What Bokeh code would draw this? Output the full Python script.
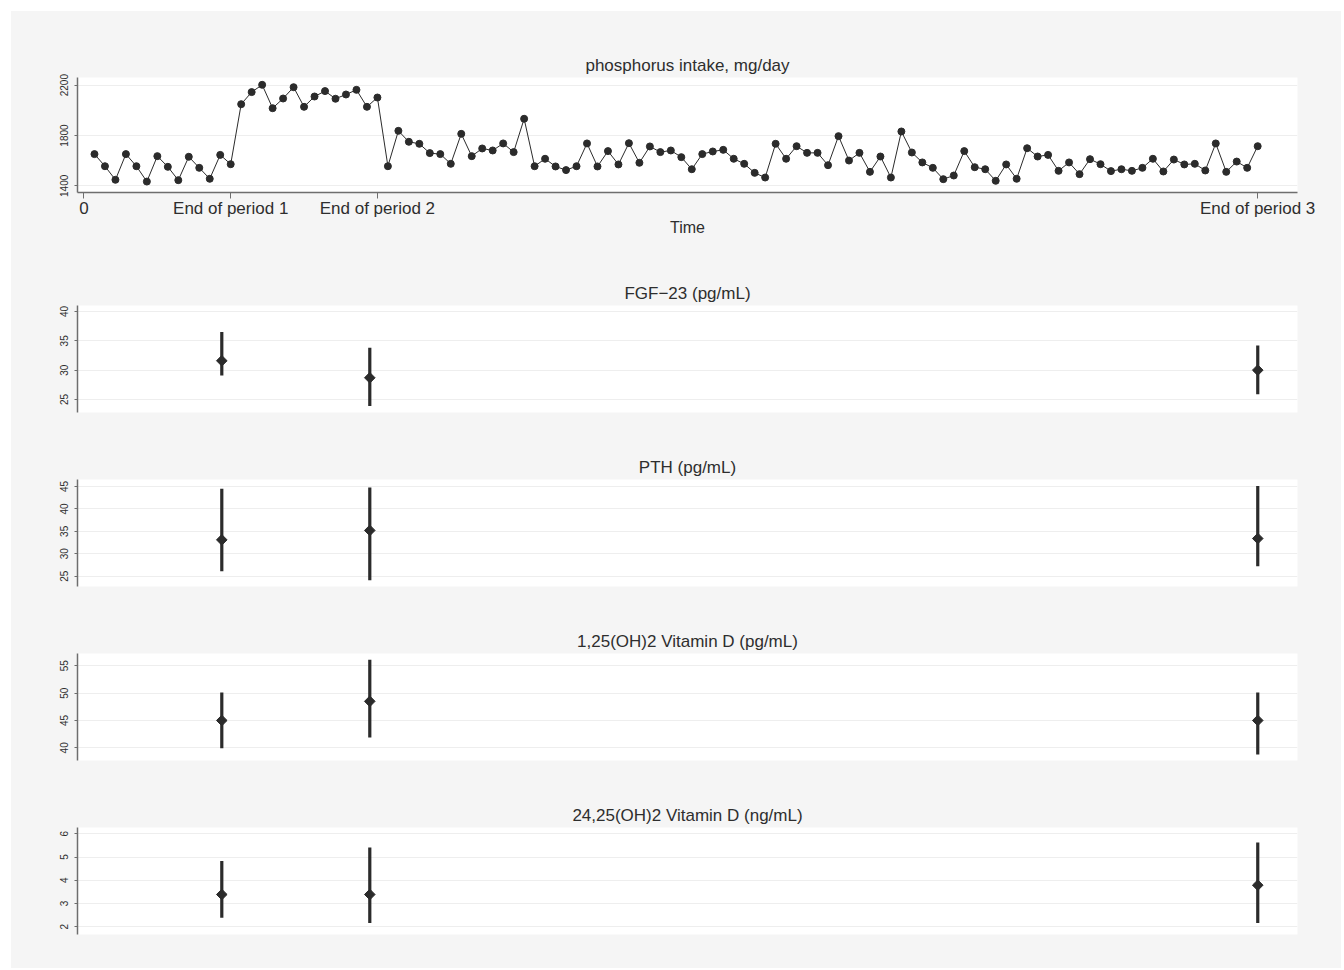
from bokeh.plotting import figure
from bokeh.layouts import column
from bokeh.models import Range1d, FixedTicker
from bokeh.embed import file_html
from bokeh.resources import INLINE

# ---------------- data ----------------
days = list(range(1, 113))
phosphorus = [
    1652, 1556, 1448, 1652, 1556, 1434, 1636, 1551, 1445, 1631,
    1543, 1456, 1646, 1572, 2049, 2145, 2203, 2017, 2094, 2184,
    2028, 2110, 2153, 2092, 2126, 2163, 2028, 2102, 1556, 1837,
    1750, 1734, 1660, 1652, 1575, 1813, 1636, 1697, 1681, 1737,
    1668, 1933, 1556, 1615, 1554, 1525, 1556, 1737, 1554, 1676,
    1570, 1739, 1583, 1713, 1668, 1681, 1628, 1532, 1652, 1673,
    1686, 1615, 1575, 1503, 1466, 1734, 1615, 1715, 1662, 1662,
    1564, 1795, 1601, 1662, 1511, 1633, 1466, 1832, 1665, 1586,
    1543, 1453, 1482, 1676, 1548, 1532, 1440, 1570, 1456, 1699,
    1633, 1646, 1519, 1586, 1493, 1612, 1572, 1517, 1532, 1519,
    1543, 1615, 1514, 1609, 1570, 1575, 1522, 1737, 1511, 1593,
    1543, 1715,
]
period_ticks = [0, 14, 28, 112]
period_labels = ["0", "End of period 1", "End of period 2", "End of period 3"]

visits = [14, 28, 112]

fgf_mean = [31.6, 28.7, 30.0]
fgf_low = [29.1, 23.9, 25.9]
fgf_high = [36.5, 33.8, 34.2]

pth_mean = [33.1, 35.2, 33.4]
pth_low = [26.1, 24.1, 27.2]
pth_high = [44.5, 44.8, 45.1]

vd125_mean = [45.0, 48.5, 45.0]
vd125_low = [39.9, 41.9, 38.8]
vd125_high = [50.1, 56.1, 50.1]

vd2425_mean = [3.39, 3.39, 3.79]
vd2425_low = [2.39, 2.16, 2.16]
vd2425_high = [4.83, 5.41, 5.63]

# ---------------- style ----------------
FONT = "Liberation Sans"
BG = "#f5f5f5"
INK = "#2b2b2b"
TXT = "#2e2e2e"
AXC = "#6e6e6e"
W = 1330


def style(p, yticks):
    p.background_fill_color = "white"
    p.border_fill_color = BG
    p.outline_line_color = None
    p.xgrid.visible = False
    p.ygrid.grid_line_color = "#eeeeee"
    p.ygrid.grid_line_width = 1
    p.yaxis.ticker = FixedTicker(ticks=yticks)
    p.yaxis.major_label_orientation = "vertical"
    p.yaxis.major_label_text_font = FONT
    p.yaxis.major_label_text_font_size = "10px"
    p.yaxis.major_label_text_color = TXT
    p.yaxis.axis_line_color = AXC
    p.yaxis.axis_line_width = 1.5
    p.yaxis.major_tick_line_color = AXC
    p.yaxis.major_tick_in = 0
    p.yaxis.major_tick_out = 3
    p.yaxis.minor_tick_line_color = None
    p.yaxis.major_label_standoff = 6
    p.title.align = "center"
    p.title.text_font = FONT
    p.title.text_font_size = "17px"
    p.title.text_font_style = "normal"
    p.title.text_color = TXT
    p.title.standoff = 6


# ---- top panel: phosphorus intake ----
p1 = figure(width=W, height=239, output_backend="svg", toolbar_location=None,
            title="phosphorus intake, mg/day",
            x_range=Range1d(-0.62, 115.8), y_range=Range1d(1347, 2261),
            min_border_left=66, min_border_right=44, min_border_top=66,
            min_border_bottom=58)
style(p1, [1400, 1800, 2200])
p1.line(days, phosphorus, line_color=INK, line_width=1)
p1.scatter(days, phosphorus, size=7, marker="circle", fill_color=INK, line_color=INK)
p1.xaxis.ticker = FixedTicker(ticks=period_ticks)
p1.xaxis.major_label_overrides = {t: lab for t, lab in zip(period_ticks, period_labels)}
p1.xaxis.major_label_text_font = FONT
p1.xaxis.major_label_text_font_size = "17px"
p1.xaxis.major_label_text_color = TXT
p1.xaxis.axis_line_color = AXC
p1.xaxis.axis_line_width = 1.5
p1.xaxis.major_tick_line_color = AXC
p1.xaxis.major_tick_in = 0
p1.xaxis.major_tick_out = 6
p1.xaxis.minor_tick_line_color = None
p1.xaxis.major_label_standoff = 0
p1.xaxis.axis_label = "Time"
p1.xaxis.axis_label_text_font = FONT
p1.xaxis.axis_label_text_font_size = "16px"
p1.xaxis.axis_label_text_font_style = "normal"
p1.xaxis.axis_label_text_color = TXT
p1.xaxis.axis_label_standoff = -2


def err_panel(title, mean, low, high, yr, yticks, height, bottom):
    p = figure(width=W, height=height, output_backend="svg", toolbar_location=None,
               title=title, x_axis_location=None,
               x_range=Range1d(0.35, 115.76), y_range=Range1d(*yr),
               min_border_left=66, min_border_right=44, min_border_top=55,
               min_border_bottom=bottom)
    style(p, yticks)
    p.segment(x0=visits, y0=low, x1=visits, y1=high, line_color=INK, line_width=3.2)
    p.scatter(visits, mean, marker="square", angle=0.785398, size=7.5,
              fill_color=INK, line_color=INK)
    return p


p2 = err_panel("FGF\u221223 (pg/mL)", fgf_mean, fgf_low, fgf_high,
               (22.78, 41.02), [25, 30, 35, 40], 174, 12)
p3 = err_panel("PTH (pg/mL)", pth_mean, pth_low, pth_high,
               (22.70, 46.56), [25, 30, 35, 40, 45], 174, 12)
p4 = err_panel("1,25(OH)2 Vitamin D (pg/mL)", vd125_mean, vd125_low, vd125_high,
               (37.68, 57.25), [40, 45, 50, 55], 174, 12)
p5 = err_panel("24,25(OH)2 Vitamin D (ng/mL)", vd2425_mean, vd2425_low, vd2425_high,
               (1.67, 6.27), [2, 3, 4, 5, 6], 196, 34)

layout = column(p1, p2, p3, p4, p5, spacing=0, margin=(11, 0, 0, 11),
                styles={"background-color": BG})
open("out.html", "w").write(file_html(layout, INLINE))
